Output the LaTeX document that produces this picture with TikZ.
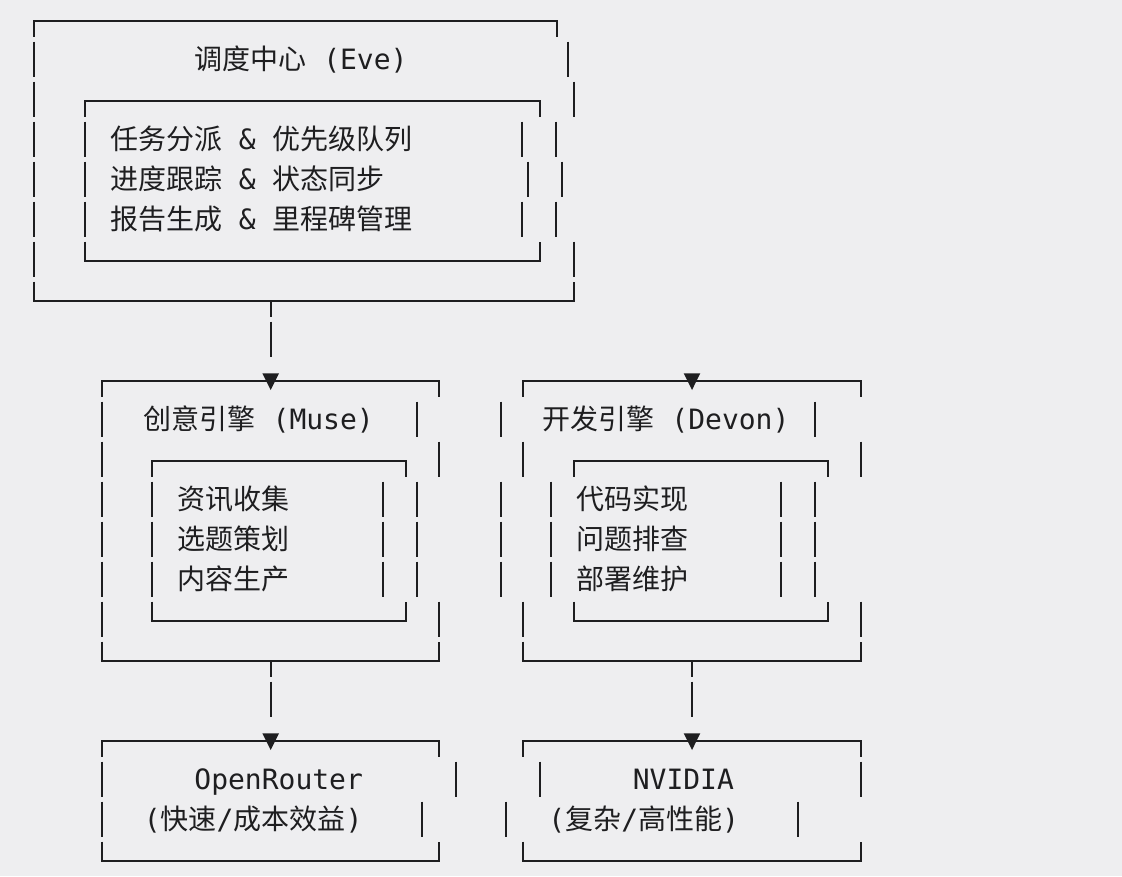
\documentclass[tikz,border=0pt]{standalone}
\usepackage{fontspec}
\setmainfont{DejaVu Sans Mono}
\newfontfamily\cjkf{Noto Sans CJK SC}
\newcommand{\C}[1]{{\cjkf #1}}
\definecolor{bgc}{HTML}{EEEEF0}
\definecolor{inkc}{HTML}{1E1E20}
% vertical bar in text row #2 at x=#1
\newcommand{\VBar}[2]{\draw[ln] (#1,{1.7+40*#2}) -- (#1,{36.7+40*#2});}
% top border (corner stubs down) from x=#1 to x=#2 in row #3
\newcommand{\TopB}[3]{\draw[ln] (#1,{36.7+40*#3}) -- (#1,{20.7+40*#3}) -- (#2,{20.7+40*#3}) -- (#2,{36.7+40*#3});}
% bottom border (corner stubs up) from x=#1 to x=#2 in row #3
\newcommand{\BotB}[3]{\draw[ln] (#1,{1.7+40*#3}) -- (#1,{20.7+40*#3}) -- (#2,{20.7+40*#3}) -- (#2,{1.7+40*#3});}
% arrow head (down triangle) at x=#1 in row #2
\newcommand{\DownTip}[2]{\fill[inkc] ({#1-8.3},{13.3+40*#2}) -- ({#1+8.3},{13.3+40*#2}) -- (#1,{30+40*#2}) -- cycle;}
\begin{document}
\begin{tikzpicture}[x=1pt,y=-1pt,
  ln/.style={draw=inkc,line width=2pt},
  txt/.style={anchor=base west,inner sep=0pt,outer sep=0pt,text=inkc,font=\fontsize{28}{28}\selectfont}]
\fill[bgc] (0,0) rectangle (1122,876);
\useasboundingbox (0,0) rectangle (1122,876);

% ---------------- Eve box ----------------
\TopB{34.1}{557.3}{0}
\VBar{34.1}{1} \VBar{568}{1}
\VBar{34.1}{2} \TopB{84.7}{540.3}{2} \VBar{573.7}{2}
\VBar{34.1}{3} \VBar{84.7}{3} \VBar{522.3}{3} \VBar{556}{3}
\VBar{34.1}{4} \VBar{84.7}{4} \VBar{528}{4} \VBar{561.7}{4}
\VBar{34.1}{5} \VBar{84.7}{5} \VBar{522.3}{5} \VBar{556}{5}
\VBar{34.1}{6} \BotB{84.7}{540.3}{6} \VBar{573.7}{6}
\BotB{34.1}{573.7}{7}

\node[txt] (eve) at (194.4,69.2) {\C{调度中心} (Eve)};
\node[txt] (task1) at (110,149.2) {\C{任务分派} \& \C{优先级队列}};
\node[txt] (task2) at (110,189.2) {\C{进度跟踪} \& \C{状态同步}};
\node[txt] (task3) at (110,229.2) {\C{报告生成} \& \C{里程碑管理}};

% ---------------- connector Eve -> Muse ----------------
\coordinate (eveS) at (270.7,300.7);
\coordinate (c1a) at (270.7,316.7);
\coordinate (c1b) at (270.7,321.7);
\coordinate (c1c) at (270.7,356.7);
\draw[ln] (eveS) -- (c1a);
\draw[ln] (c1b) -- (c1c);

% ---------------- Muse / Devon boxes ----------------
\TopB{101.6}{439}{9} \TopB{522.7}{860.5}{9}
\DownTip{270.7}{9} \DownTip{692}{9}
\VBar{101.6}{10} \VBar{416.5}{10} \VBar{500.6}{10} \VBar{815.2}{10}
\VBar{101.6}{11} \TopB{152.2}{405.5}{11} \VBar{439}{11}
\VBar{522.7}{11} \TopB{573.8}{827.5}{11} \VBar{860.5}{11}
\foreach \r in {12,13,14}{
  \VBar{101.6}{\r} \VBar{152.2}{\r} \VBar{382.7}{\r} \VBar{416.5}{\r}
  \VBar{500.6}{\r} \VBar{551}{\r} \VBar{781.3}{\r} \VBar{815.2}{\r}
}
\VBar{101.6}{15} \BotB{152.2}{405.5}{15} \VBar{439}{15}
\VBar{522.7}{15} \BotB{573.8}{827.5}{15} \VBar{860.5}{15}
\BotB{101.6}{439}{16} \BotB{522.7}{860.5}{16}

\node[txt] (muse) at (143.8,429.2) {\C{创意引擎} (Muse)};
\node[txt] (devon) at (542.6,429.2) {\C{开发引擎} (Devon)};
\node[txt] (m1) at (177.5,509.2) {\C{资讯收集}};
\node[txt] (m2) at (177.5,549.2) {\C{选题策划}};
\node[txt] (m3) at (177.5,589.2) {\C{内容生产}};
\node[txt] (d1) at (576.3,509.2) {\C{代码实现}};
\node[txt] (d2) at (576.3,549.2) {\C{问题排查}};
\node[txt] (d3) at (576.3,589.2) {\C{部署维护}};

% ---------------- connectors to providers ----------------
\coordinate (museS) at (270.7,660.7);
\coordinate (c2a) at (270.7,676.7);
\coordinate (c2b) at (270.7,681.7);
\coordinate (c2c) at (270.7,716.7);
\coordinate (devonS) at (692,660.7);
\coordinate (c3a) at (692,676.7);
\coordinate (c3b) at (692,681.7);
\coordinate (c3c) at (692,716.7);
\draw[ln] (museS) -- (c2a);
\draw[ln] (c2b) -- (c2c);
\draw[ln] (devonS) -- (c3a);
\draw[ln] (c3b) -- (c3c);

% ---------------- provider boxes ----------------
\TopB{101.6}{439}{18} \TopB{522.7}{860.5}{18}
\DownTip{270.7}{18} \DownTip{692}{18}
\VBar{101.6}{19} \VBar{455.7}{19} \VBar{539.9}{19} \VBar{860.5}{19}
\VBar{101.6}{20} \VBar{421.5}{20} \VBar{506.1}{20} \VBar{797.8}{20}
\BotB{101.6}{439}{21} \BotB{522.7}{860.5}{21}

\node[txt] (or) at (194.4,789.2) {OpenRouter};
\node[txt] (orsub) at (143.8,829.2) {(\C{快速}/\C{成本效益})};
\node[txt] (nv) at (632.8,789.2) {NVIDIA};
\node[txt] (nvsub) at (548.4,829.2) {(\C{复杂}/\C{高性能})};
\end{tikzpicture}
\end{document}
